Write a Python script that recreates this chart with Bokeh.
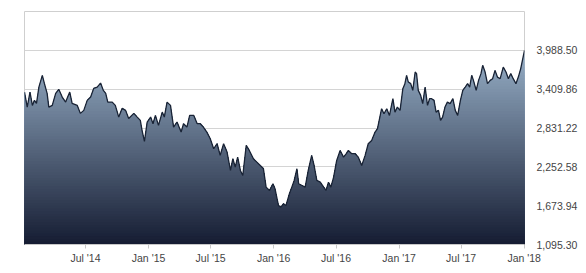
import numpy as np
import pandas as pd
from bokeh.plotting import figure
from bokeh.models import FixedTicker, NumeralTickFormatter, Range1d
from bokeh.embed import file_html
from bokeh.resources import INLINE

# ---- data ----
dates = [
    "2014-01-04", "2014-01-12", "2014-01-20", "2014-01-27", "2014-02-02", "2014-02-08", "2014-02-15", "2014-02-25",
    "2014-03-03", "2014-03-11", "2014-03-16", "2014-03-26", "2014-04-05", "2014-04-14", "2014-04-24", "2014-05-04",
    "2014-05-16", "2014-05-23", "2014-06-07", "2014-06-16", "2014-06-26", "2014-07-06", "2014-07-16", "2014-07-25",
    "2014-08-04", "2014-08-14", "2014-08-22", "2014-08-29", "2014-09-04", "2014-09-17", "2014-09-26", "2014-10-06",
    "2014-10-16", "2014-10-26", "2014-11-04", "2014-11-19", "2014-11-29", "2014-12-08", "2014-12-13", "2014-12-20",
    "2014-12-28", "2015-01-07", "2015-01-14", "2015-01-21", "2015-01-30", "2015-02-10", "2015-02-16", "2015-02-24",
    "2015-03-06", "2015-03-15", "2015-03-25", "2015-04-06", "2015-04-13", "2015-04-23", "2015-05-01", "2015-05-13",
    "2015-05-23", "2015-06-01", "2015-06-10", "2015-06-20", "2015-06-30", "2015-07-10", "2015-07-20", "2015-07-29",
    "2015-08-08", "2015-08-18", "2015-08-28", "2015-09-04", "2015-09-11", "2015-09-18", "2015-09-26", "2015-10-03",
    "2015-10-13", "2015-10-22", "2015-11-03", "2015-11-13", "2015-11-23", "2015-12-02", "2015-12-10", "2015-12-20",
    "2015-12-30", "2016-01-05", "2016-01-15", "2016-01-22", "2016-01-30", "2016-02-06", "2016-02-16", "2016-02-23",
    "2016-03-01", "2016-03-09", "2016-03-14", "2016-03-24", "2016-04-02", "2016-04-11", "2016-04-21", "2016-04-28",
    "2016-05-06", "2016-05-16", "2016-05-26", "2016-06-02", "2016-06-09", "2016-06-16", "2016-06-24", "2016-07-03",
    "2016-07-13", "2016-07-23", "2016-07-31", "2016-08-06", "2016-08-16", "2016-08-26", "2016-09-04", "2016-09-14",
    "2016-09-24", "2016-10-03", "2016-10-13", "2016-10-23", "2016-10-30", "2016-11-04", "2016-11-11", "2016-11-18",
    "2016-11-26", "2016-12-04", "2016-12-14", "2016-12-20", "2016-12-27", "2017-01-04", "2017-01-12", "2017-01-18",
    "2017-01-23", "2017-01-28", "2017-02-04", "2017-02-10", "2017-02-17", "2017-02-21", "2017-02-26", "2017-03-05",
    "2017-03-11", "2017-03-18", "2017-03-25", "2017-03-31", "2017-04-06", "2017-04-13", "2017-04-19", "2017-04-26",
    "2017-05-02", "2017-05-08", "2017-05-15", "2017-05-22", "2017-05-30", "2017-06-07", "2017-06-14", "2017-06-21",
    "2017-06-29", "2017-07-06", "2017-07-13", "2017-07-20", "2017-07-26", "2017-08-01", "2017-08-06", "2017-08-14",
    "2017-08-21", "2017-08-28", "2017-09-02", "2017-09-09", "2017-09-16", "2017-09-24", "2017-10-01", "2017-10-08",
    "2017-10-15", "2017-10-23", "2017-11-01", "2017-11-09", "2017-11-16", "2017-11-23", "2017-11-30", "2017-12-08",
    "2017-12-15", "2017-12-22", "2017-12-28", "2018-01-02",
]
values = [
    3367, 3143, 3367, 3168, 3243, 3198, 3441, 3616,
    3496, 3347, 3143, 3168, 3347, 3407, 3292, 3217,
    3367, 3198, 3168, 3049, 3094, 3243, 3292, 3422,
    3441, 3501, 3392, 3347, 3217, 3217, 3168, 2994,
    3124, 3094, 2974, 3049, 2994, 2945, 2795, 2631,
    2919, 2994, 2895, 3019, 2870, 3068, 2994, 3217,
    3168, 2845, 2919, 2770, 2895, 2845, 3019, 3019,
    2895, 2895, 2845, 2770, 2672, 2522, 2597, 2423,
    2597, 2472, 2199, 2373, 2248, 2397, 2199, 2124,
    2572, 2497, 2373, 2323, 2273, 2229, 1950, 1901,
    2000, 1926, 1677, 1652, 1702, 1677, 1851, 1950,
    2050, 2224, 2000, 1975, 1950, 2199, 2423, 2273,
    2050, 2024, 1950, 1901, 2024, 1950, 2099, 2348,
    2497, 2397, 2448, 2497, 2448, 2448, 2397, 2273,
    2423, 2597, 2646, 2770, 2821, 2945, 3119, 3044,
    3119, 3019, 3268, 3068, 3143, 3094, 3417, 3492,
    3616, 3516, 3492, 3392, 3665, 3641, 3392, 3317,
    3194, 3441, 3168, 3268, 3268, 3243, 3068, 3094,
    2945, 2994, 3143, 3217, 3194, 3268, 3094, 3019,
    3243, 3392, 3441, 3492, 3441, 3616, 3541, 3392,
    3541, 3641, 3765, 3665, 3492, 3541, 3566, 3690,
    3590, 3566, 3739, 3665, 3566, 3641, 3566, 3492,
    3590, 3716, 3865, 3988.50,
]
y_ticks = [1095.30, 1673.94, 2252.58, 2831.22, 3409.86, 3988.50]
y_max = 4567.14
x_tick_dates = ["2014-07-01", "2015-01-01", "2015-07-01", "2016-01-01",
                "2016-07-01", "2017-01-01", "2017-07-01", "2018-01-01"]
x_tick_labels = ["Jul '14", "Jan '15", "Jul '15", "Jan '16",
                 "Jul '16", "Jan '17", "Jul '17", "Jan '18"]

# ---- build ----
x = pd.to_datetime(dates)
v = np.array(values, dtype=float)

p = figure(width=586, height=273, x_axis_type="datetime", y_axis_location="right",
           output_backend="svg", toolbar_location=None,
           x_range=Range1d(x[0].to_pydatetime(), x[-1].to_pydatetime()),
           y_range=Range1d(y_ticks[0], y_max),
           min_border_left=24, min_border_right=62, min_border_top=11, min_border_bottom=29)
p.background_fill_color = "white"
p.border_fill_color = "white"
p.outline_line_color = "#cfcfcf"
p.outline_line_width = 1

# gradient fill under the line: stacked layers, darker toward bottom
top_c = np.array([0x97, 0xaf, 0xc7], dtype=float)
bot_c = np.array([0x14, 0x1b, 0x31], dtype=float)
lo, hi = y_ticks[0], float(v.max())
N = 70
for k in range(N):
    T = hi - k * (hi - lo) / N
    f = (T - lo) / (hi - lo)
    c = bot_c + (top_c - bot_c) * f
    col = "#%02x%02x%02x" % tuple(int(round(t)) for t in c)
    p.varea(x=x, y1=lo, y2=np.minimum(v, T), fill_color=col, fill_alpha=1.0)

p.line(x, v, line_color="#1a2436", line_width=1.3)

# grid
p.xgrid.visible = False
p.ygrid.ticker = FixedTicker(ticks=y_ticks)
p.ygrid.grid_line_color = "#d4d4d4"
p.ygrid.grid_line_width = 1

# y axis (right)
ya = p.yaxis[0]
ya.ticker = FixedTicker(ticks=y_ticks)
ya.formatter = NumeralTickFormatter(format="0,0.00")
ya.axis_line_color = None
ya.major_tick_line_color = None
ya.minor_tick_line_color = None
ya.major_label_standoff = 6
ya.major_label_text_font = "'Liberation Sans Narrow', 'Liberation Sans', Arial"
ya.major_label_text_font_size = "10.5px"
ya.major_label_text_color = "#444444"

# x axis
xa = p.xaxis[0]
tick_ms = [pd.Timestamp(d).value / 1e6 for d in x_tick_dates]
xa.ticker = FixedTicker(ticks=tick_ms)
xa.major_label_overrides = {t: l for t, l in zip(tick_ms, x_tick_labels)}
xa.axis_line_color = "#c8c8c8"
xa.major_tick_line_color = "#c8c8c8"
xa.major_tick_in = 0
xa.major_tick_out = 4
xa.minor_tick_line_color = None
xa.major_label_standoff = 3
xa.major_label_text_font = "'Liberation Sans Narrow', 'Liberation Sans', Arial"
xa.major_label_text_font_size = "10.5px"
xa.major_label_text_color = "#444444"

open("out.html", "w").write(file_html(p, INLINE))
